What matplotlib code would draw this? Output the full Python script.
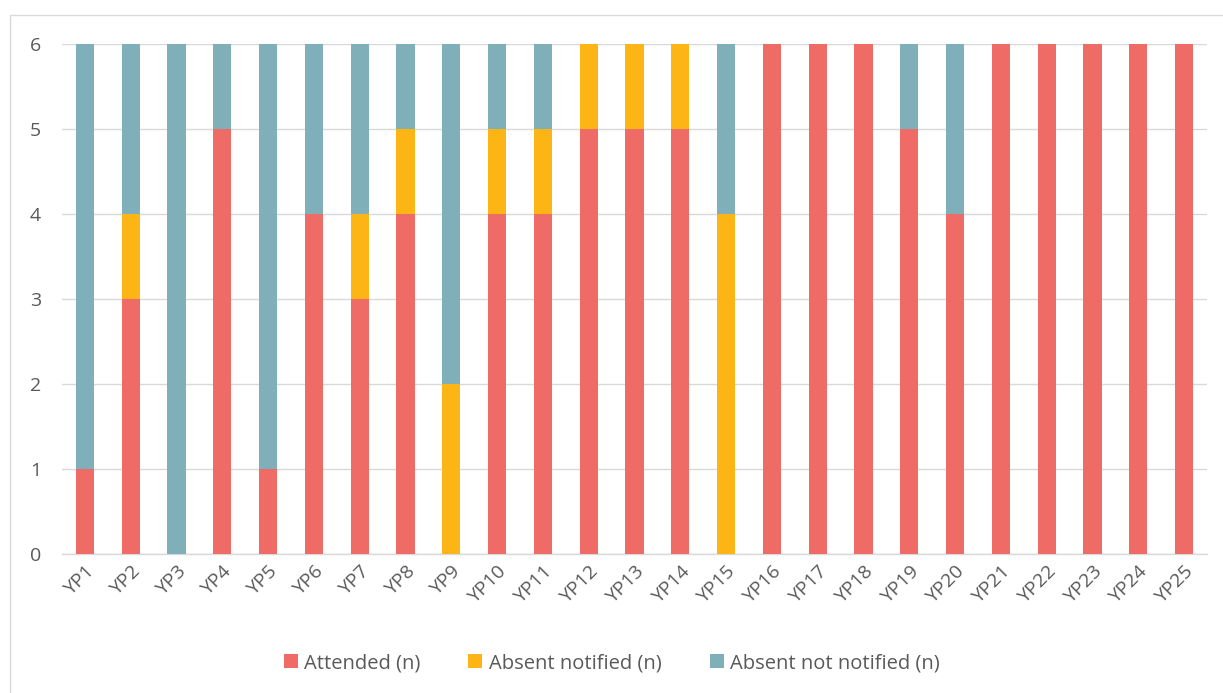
import matplotlib
matplotlib.use("Agg")
import matplotlib.pyplot as plt
from matplotlib.patches import Rectangle
import numpy as np

plt.rcParams['font.family'] = ['Open Sans', 'DejaVu Sans']

participants = [f"YP{i}" for i in range(1, 26)]
attended = [1, 3, 0, 5, 1, 4, 3, 4, 0, 4, 4, 5, 5, 5, 0, 6, 6, 6, 5, 4, 6, 6, 6, 6, 6]
absent_notified = [0, 1, 0, 0, 0, 0, 1, 1, 2, 1, 1, 1, 1, 1, 4, 0, 0, 0, 0, 0, 0, 0, 0, 0, 0]
absent_not_notified = [5, 2, 6, 1, 5, 2, 2, 1, 4, 1, 1, 0, 0, 0, 2, 0, 0, 0, 1, 2, 0, 0, 0, 0, 0]
series_labels = ["Attended (n)", "Absent notified (n)", "Absent not notified (n)"]
colors = ["#EE6B66", "#FDB515", "#7FAFB8"]
y_ticks = [0, 1, 2, 3, 4, 5, 6]

W, H = 1223, 693
fig = plt.figure(figsize=(W / 100, H / 100), dpi=100)
ax = fig.add_axes([62 / W, 1 - 554 / H, (1207 - 62) / W, (554 - 44) / H])

# chart frame
fig.patches.append(Rectangle((10 / W, -0.05), 1.1, 1 - 15 / H + 0.05,
                             transform=fig.transFigure, fill=False,
                             edgecolor="#D9D9D9", linewidth=1.0))

x = np.arange(len(participants))
a = np.array(attended)
n = np.array(absent_notified)
nn = np.array(absent_not_notified)
width = 0.4
ax.bar(x, a, width, color=colors[0], label=series_labels[0], zorder=3)
ax.bar(x, n, width, bottom=a, color=colors[1], label=series_labels[1], zorder=3)
ax.bar(x, nn, width, bottom=a + n, color=colors[2], label=series_labels[2], zorder=3)

ax.set_xlim(-0.5, len(participants) - 0.5)
ax.set_ylim(0, 6)
ax.set_yticks(y_ticks)
ax.yaxis.grid(True, color="#D9D9D9", linewidth=1.0, zorder=0)
ax.set_axisbelow(True)
for side in ["top", "right", "left"]:
    ax.spines[side].set_visible(False)
ax.spines["bottom"].set_color("#D9D9D9")
ax.spines["bottom"].set_linewidth(1.0)
ax.tick_params(axis="both", length=0, colors="#595959", labelsize=14)
ax.tick_params(axis="y", pad=15)
ax.set_xticks(x)
ax.set_xticklabels(participants, rotation=45, ha="right", rotation_mode="anchor")
ax.tick_params(axis="x", pad=6)

handles, labels = ax.get_legend_handles_labels()
fig.legend(handles, labels, loc="center", bbox_to_anchor=(0.5, 1 - 663 / H),
           ncol=3, frameon=False, fontsize=14.5, labelcolor="#595959",
           handlelength=0.7, handleheight=0.7, handletextpad=0.3, columnspacing=2.4)

fig.savefig("out.png", dpi=100)
